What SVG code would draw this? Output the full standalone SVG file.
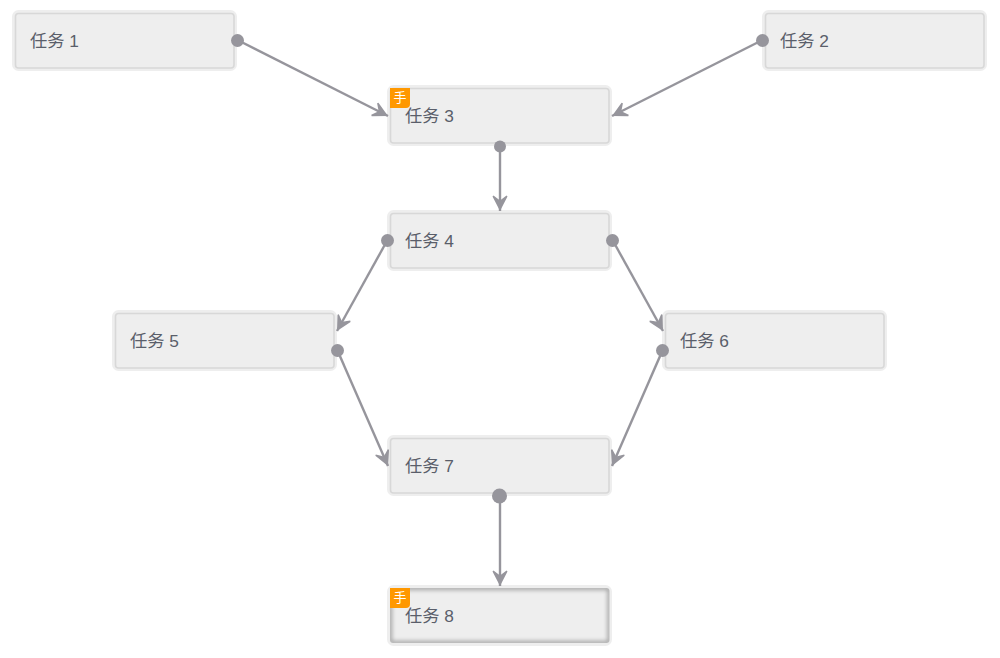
<svg xmlns="http://www.w3.org/2000/svg" width="1000" height="658" viewBox="0 0 1000 658">
<style>
.halo{fill:#eeeeee;stroke:#eeeeee;stroke-width:3}
.box{fill:#eeeeee;stroke:#d8d8d8;stroke-width:1.600}
.lbl{font-family:"Liberation Sans","Noto Sans CJK SC",sans-serif;font-size:17.300px;fill:#5a5e6a}
.bd{fill:#ff9800}
.bt{font-family:"Liberation Sans","Noto Sans CJK SC",sans-serif;font-size:13px;fill:#ffffff;text-anchor:middle}
.edge{fill:none;stroke:#96959c;stroke-width:2.400;marker-end:url(#arr)}
.dot{fill:#96959c}
</style>
<defs>
<marker id="arr" markerUnits="userSpaceOnUse" markerWidth="20" markerHeight="20" refX="16" refY="9" orient="auto" viewBox="0 0 20 20"><path d="M16,9 L1.500,1.500 L0.500,2.500 L5.500,9 L0.500,15.500 L1.500,16.500 Z" fill="#96959c"/></marker>
<filter id="bl" x="-10%" y="-30%" width="120%" height="160%"><feGaussianBlur stdDeviation="2"/></filter>
<clipPath id="c8"><rect x="390" y="588" width="219.500" height="55" rx="3"/></clipPath>
</defs>
<g id="n1"><rect class="halo" x="13.500" y="11.500" width="222" height="58" rx="5"/><rect class="box" x="15.500" y="13.500" width="218.500" height="54.500" rx="3"/><text class="lbl" x="30" y="47">任务 1</text></g>
<g id="n2"><rect class="halo" x="763.500" y="11.500" width="222" height="58" rx="5"/><rect class="box" x="765.500" y="13.500" width="218.500" height="54.500" rx="3"/><text class="lbl" x="780" y="47">任务 2</text></g>
<g id="n3"><rect class="halo" x="388.500" y="86.500" width="222" height="58" rx="5"/><rect class="box" x="390.500" y="88.500" width="218.500" height="54.500" rx="3"/><path class="bd" d="M390,88H410V104Q410,108 406,108H390Z"/><text class="bt" x="400" y="102">手</text><text class="lbl" x="405" y="122">任务 3</text></g>
<g id="n4"><rect class="halo" x="388.500" y="211.500" width="222" height="58" rx="5"/><rect class="box" x="390.500" y="213.500" width="218.500" height="54.500" rx="3"/><text class="lbl" x="405" y="247">任务 4</text></g>
<g id="n5"><rect class="halo" x="113.500" y="311.500" width="222" height="58" rx="5"/><rect class="box" x="115.500" y="313.500" width="218.500" height="54.500" rx="3"/><text class="lbl" x="130" y="347">任务 5</text></g>
<g id="n6"><rect class="halo" x="663.500" y="311.500" width="222" height="58" rx="5"/><rect class="box" x="665.500" y="313.500" width="218.500" height="54.500" rx="3"/><text class="lbl" x="680" y="347">任务 6</text></g>
<g id="n7"><rect class="halo" x="388.500" y="436.500" width="222" height="58" rx="5"/><rect class="box" x="390.500" y="438.500" width="218.500" height="54.500" rx="3"/><text class="lbl" x="405" y="472">任务 7</text></g>
<g id="n8"><rect class="halo" x="388.500" y="586.500" width="222" height="58" rx="5"/><g clip-path="url(#c8)"><rect x="390" y="588" width="219.500" height="55" rx="3" fill="none" stroke="#a0a0a0" stroke-width="4" filter="url(#bl)"/></g><path class="bd" d="M390,588H410V604Q410,608 406,608H390Z"/><text class="bt" x="400" y="602">手</text><text class="lbl" x="405" y="622">任务 8</text></g>
<g id="connectors">
<path class="edge" d="M237.500,40L388,116"/><circle class="dot" cx="237.500" cy="40.500" r="6.500"/>
<path class="edge" d="M762.500,40L612,116"/><circle class="dot" cx="762.500" cy="40.500" r="6.500"/>
<path class="edge" d="M500,146L500,211"/><circle class="dot" cx="500" cy="146.500" r="6"/>
<path class="edge" d="M387.500,240L337,331"/><circle class="dot" cx="387.500" cy="240.500" r="6.500"/>
<path class="edge" d="M612.500,240L663,331"/><circle class="dot" cx="612.500" cy="240.500" r="6.500"/>
<path class="edge" d="M337.500,350.500L388,466"/><circle class="dot" cx="337.500" cy="350.500" r="6.500"/>
<path class="edge" d="M662.500,350.500L612,466"/><circle class="dot" cx="662.500" cy="350.500" r="6.500"/>
<path class="edge" d="M500,496L500,586"/><circle class="dot" cx="499.500" cy="496" r="7.500"/>
</g>
</svg>
